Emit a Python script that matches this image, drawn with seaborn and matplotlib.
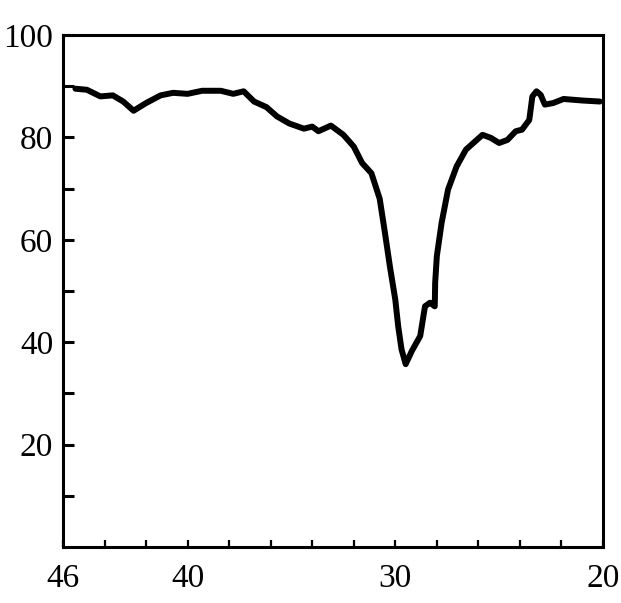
import numpy as np
import matplotlib
matplotlib.use("Agg")
import matplotlib.pyplot as plt
import seaborn as sns
import pandas as pd

# Messkurve, x laeuft von 46 nach 20
two_theta = [45.4, 44.85, 44.2, 43.6, 43.1, 42.6, 42.0, 41.3, 40.7, 40.0,
             39.3, 38.4, 37.8, 37.3, 36.8, 36.2, 35.7, 35.1, 34.4, 34.0,
             33.7, 33.1, 32.5, 32.0, 31.6, 31.15, 30.75, 30.5, 30.26, 30.0,
             29.86, 29.7, 29.5, 29.2, 28.8, 28.57, 28.33, 28.1, 28.08, 28.0,
             27.77, 27.46, 27.05, 26.6, 25.8, 25.4, 25.0, 24.6, 24.2, 23.9,
             23.55, 23.4, 23.2, 23.0, 22.8, 22.4, 21.9, 21.0, 20.15]
intensity = [89.5, 89.3, 88.0, 88.2, 87.0, 85.2, 86.7, 88.2, 88.7, 88.5,
             89.1, 89.1, 88.5, 89.0, 87.0, 85.9, 84.1, 82.7, 81.7, 82.1,
             81.2, 82.3, 80.5, 78.2, 75.0, 73.0, 68.0, 61.4, 54.8, 48.3,
             43.1, 38.6, 35.7, 38.3, 41.2, 47.0, 47.7, 47.0, 51.6, 56.8,
             63.3, 69.8, 74.3, 77.6, 80.5, 79.9, 78.9, 79.5, 81.2, 81.5,
             83.4, 88.0, 89.0, 88.3, 86.4, 86.7, 87.5, 87.2, 87.0]

x_labels = [46, 40, 30, 20]
x_minor = [44, 42, 38, 36, 34, 32, 28, 26, 24, 22]
y_labels = [20, 40, 60, 80, 100]
y_minor = [10, 30, 50, 70, 90]

df = pd.DataFrame({"x": two_theta, "y": intensity})

sns.set_theme(style="ticks")
plt.rcParams["font.family"] = ["Liberation Serif", "DejaVu Serif"]

fig = plt.figure(figsize=(6.21, 6.03), dpi=100)
ax = fig.add_axes([0.1014, 0.0930, 0.8696, 0.8490])

sns.lineplot(data=df, x="x", y="y", sort=False, estimator=None,
             color="black", linewidth=4.3, ax=ax)
for ln in ax.get_lines():
    ln.set_solid_joinstyle("round")
    ln.set_solid_capstyle("round")

ax.set_xlim(46, 20)
ax.set_ylim(0, 100)
ax.set_xticks(x_labels)
ax.set_xticks(x_minor, minor=True)
ax.set_yticks(y_labels)
ax.set_yticks(y_minor, minor=True)
ax.set_xlabel("")
ax.set_ylabel("")

for s in ax.spines.values():
    s.set_linewidth(2.2)
    s.set_color("black")
    s.set_visible(True)

ax.tick_params(axis="both", which="both", direction="in", colors="black",
               labelsize=24, labelcolor="black")
ax.tick_params(axis="x", which="both", length=5, width=1.6, pad=12)
ax.tick_params(axis="y", which="both", length=8, width=2.2, pad=7)

fig.savefig("out.png", dpi=100, facecolor="white")
